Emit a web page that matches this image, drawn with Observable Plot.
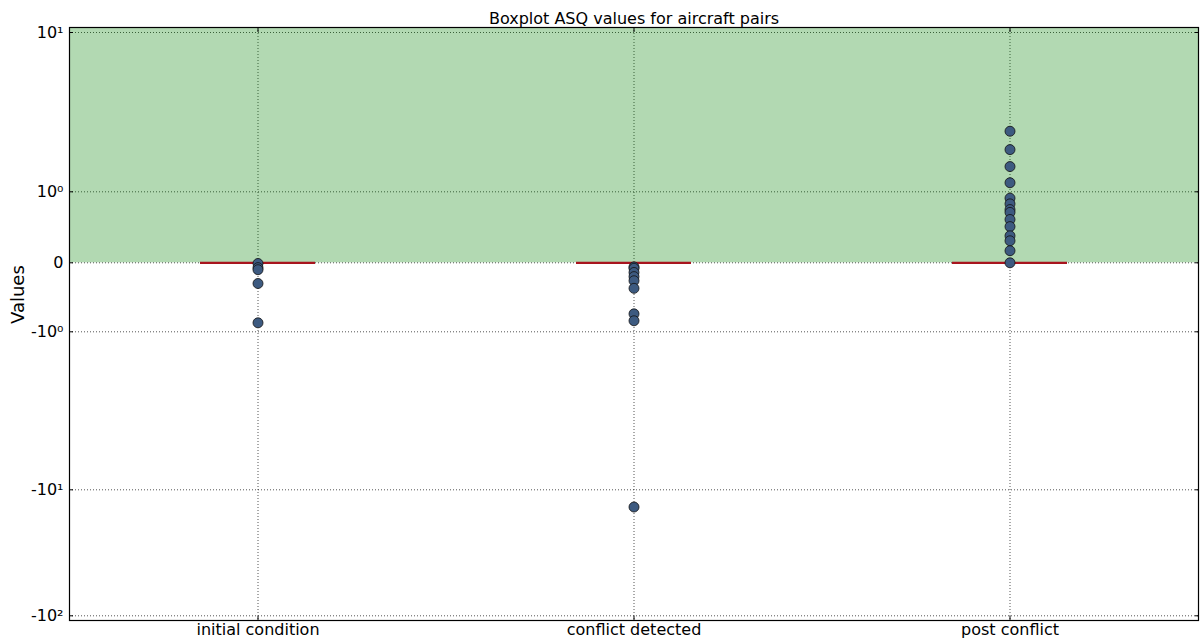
<!DOCTYPE html>
<html><head><meta charset="utf-8">
<script src="https://cdn.jsdelivr.net/npm/d3@7"></script>
<script src="https://cdn.jsdelivr.net/npm/@observablehq/plot@0.6"></script>
<style>
body{margin:0;background:#fff;}
#chart svg{font-family:"DejaVu Sans",sans-serif;display:block;}
</style>
</head><body><div id="chart"></div>
<script>
// ---- data ----
const categories = ["initial condition", "conflict detected", "post conflict"];
const initialOutliers = [-0.01, -0.07, -0.1, -0.3, -0.87];
const conflictOutliers = [-0.06, -0.08, -0.14, -0.2, -0.26, -0.37, -0.74, -0.84, -13.7];
const postOutliers = [2.4, 1.84, 1.44, 1.14, 0.91, 0.83, 0.75, 0.71, 0.61, 0.51, 0.38, 0.31, 0.17, 0.0];
const medians = [0, 0, 0];
const yTickValues = [-100, -10, -1, 0, 1, 10];
const yTickLabels = ["-10²", "-10¹", "-10⁰", "0", "10⁰", "10¹"];
const title = "Boxplot ASQ values for aircraft pairs";
const yLabel = "Values";

// ---- build ----
const outlierSets = [initialOutliers, conflictOutliers, postOutliers];
const points = outlierSets.flatMap((vals, i) => vals.map(v => ({category: categories[i], value: v})));
const medianRows = medians.map((m, i) => ({category: categories[i], value: m}));

const linScale = 0.44;
const symlog = v => Math.abs(v) <= 1 ? v * linScale : Math.sign(v) * (linScale + Math.log10(Math.abs(v)));
const labelOf = new Map(yTickValues.map((v, i) => [v, yTickLabels[i]]));

const chart = Plot.plot({
  width: 1200,
  height: 639,
  marginTop: 27,
  marginBottom: 19,
  marginLeft: 69,
  marginRight: 2,
  style: {fontFamily: "DejaVu Sans, sans-serif", fontSize: "16px", background: "#fff", color: "#000", overflow: "visible"},
  x: {type: "band", domain: categories, paddingInner: 0.694, paddingOuter: 0.347, axis: null, label: null},
  y: {type: "linear", transform: symlog, domain: yTickValues.map(symlog),
      range: [615.3, 489.3, 331.3, 262.3, 191.3, 32], axis: null, label: null},
  marks: [
    // grid
    Plot.ruleY(yTickValues, {y: d => d, stroke: "#000", strokeOpacity: 0.75, strokeWidth: 0.9, strokeDasharray: "1,2"}),
    Plot.ruleX(categories, {x: d => d, stroke: "#000", strokeOpacity: 0.75, strokeWidth: 0.9, strokeDasharray: "1,2"}),
    // green region above zero
    Plot.rect([0], {y1: 0, y2: 1000, fill: "#008000", fillOpacity: 0.3, clip: true}),
    // median lines
    Plot.tickY(medianRows, {x: "category", y: "value", stroke: "#a8141e", strokeWidth: 2.2}),
    // outliers
    Plot.dot(points, {x: "category", y: "value", r: 5, fill: "#3d5a80", stroke: "#111", strokeWidth: 0.8}),
    // frame
    Plot.frame({stroke: "#000", strokeWidth: 1.2}),
    // inward ticks
    Plot.axisY(yTickValues, {anchor: "left", tickSize: -4, tickFormat: () => "", stroke: "#000", label: null}),
    Plot.axisY(yTickValues, {anchor: "right", tickSize: -4, tickFormat: () => "", stroke: "#000", label: null}),
    Plot.axisX(categories, {anchor: "bottom", tickSize: -4, tickFormat: () => "", stroke: "#000", label: null}),
    Plot.axisX(categories, {anchor: "top", tickSize: -4, tickFormat: () => "", stroke: "#000", label: null}),
    // labels
    Plot.axisY(yTickValues, {anchor: "left", tickSize: 0, tickPadding: 6, fontSize: 16, tickFormat: d => labelOf.get(d), label: null}),
    Plot.axisX(categories, {anchor: "bottom", tickSize: 0, tickPadding: 3, fontSize: 16, label: null}),
    Plot.text([title], {frameAnchor: "top", dy: -4, lineAnchor: "bottom", fontSize: 16}),
    Plot.text([yLabel], {frameAnchor: "left", dx: -51, rotate: -90, fontSize: 18})
  ]
});
document.getElementById("chart").appendChild(chart);
</script>
</body></html>
